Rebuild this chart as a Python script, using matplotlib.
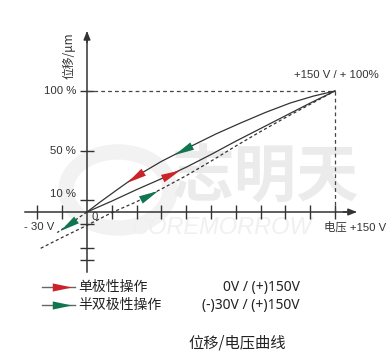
import numpy as np
import matplotlib
matplotlib.use("Agg")
import matplotlib.pyplot as plt
from matplotlib.markers import MarkerStyle
from matplotlib.path import Path
from matplotlib.transforms import Affine2D
from matplotlib.patches import Circle
from matplotlib.lines import Line2D

### data (voltage in V, displacement in %)
# falling branch (150 V -> 0 V), solid
down_v = [0, 8, 18, 29, 45, 62, 78, 93, 108, 123, 137, 150]
down_p = [0, 8.3, 18.2, 28.9, 41.8, 53.7, 64.5, 73.6, 82.3, 90.1, 95.8, 100]
# unipolar rising branch, solid
uni_v = [0, 15, 30, 45, 60, 75, 90, 105, 120, 135, 150]
uni_p = [0, 9, 18.5, 27.5, 37, 47.5, 58.5, 69, 79.5, 90, 100]
# semi-bipolar rising branch, dashed
semi_v = [-28, -15, 0, 15, 30, 45, 60, 75, 90, 105, 120, 135, 150]
semi_p = [-30, -21, -11, -0.5, 8.5, 19, 30, 42, 54.5, 66.5, 78, 89, 100]
# semi-bipolar falling branch below 0 V, dashed
semi_dn_v = [0, -9, -18]
semi_dn_p = [0, -8.5, -17]

x_ticks = [-30, -15, 15, 30, 45, 60, 75, 90, 105, 120, 135, 150]
y_ticks = [-40, -30, -10, 10, 50, 100]
y_labels = ["100 %", "50 %", "10 %"]
y_label_vals = [100, 50, 15]

legend_names = ["单极性操作", "半双极性操作"]
legend_ranges = ["0V / (+)150V", "(-)30V / (+)150V"]

RED = "#cc2229"
GREEN = "#11764f"
INK = "#333333"

W, H = 391, 363
x0, y0, sx, sy = 87, 212, 1.653, 1.21   # pixel position of origin, px per V, px per %

fig = plt.figure(figsize=(W / 100, H / 100), dpi=100)
ax = fig.add_axes([0, 0, 1, 1])
ax.set_xlim(-x0 / sx, (W - x0) / sx)
ax.set_ylim(-(H - y0) / sy, y0 / sy)

def fx(px):
    return px / W

def fy(py):
    return 1 - py / H

### watermark (behind everything)
ax.add_patch(Circle(((118 - x0) / sx, (y0 - 190) / sy), 52 / sx, fill=False,
                    ec="#f2f2f2", lw=11, zorder=0))
ax.text(fx(265), fy(178), "志明天", fontsize=45, fontweight="bold", color="#ebebeb",
        family="Noto Sans CJK SC", ha="center", va="center", zorder=0,
        transform=ax.transAxes)
ax.text(fx(222), fy(228), "COREMORROW", fontsize=17, style="italic", color="#f0f0f0",
        family="Liberation Sans", ha="center", va="center", zorder=0,
        transform=ax.transAxes)

### axes
for s in ["top", "right"]:
    ax.spines[s].set_visible(False)
ax.spines["left"].set_position(("data", 0))
ax.spines["bottom"].set_position(("data", 0))
ax.spines["left"].set_bounds(-49.6, 148)
ax.spines["bottom"].set_bounds(-37.5, 162)
for s in ["left", "bottom"]:
    ax.spines[s].set_color(INK)
    ax.spines[s].set_linewidth(1.1)
ax.set_xticks(x_ticks)
ax.set_yticks(y_ticks)
ax.tick_params(direction="inout", length=9.5, width=1.0, colors=INK,
               labelleft=False, labelbottom=False)
ax.annotate("", xy=(0, 149.6), xytext=(0, 140),
            arrowprops=dict(arrowstyle="-|>,head_length=0.5,head_width=0.2",
                            color=INK, lw=1.1, shrinkA=0, shrinkB=0))
ax.annotate("", xy=(163.3, 0), xytext=(155, 0),
            arrowprops=dict(arrowstyle="-|>,head_length=0.5,head_width=0.2",
                            color=INK, lw=1.1, shrinkA=0, shrinkB=0))

# guides to the 150 V / 100 % corner
ax.plot([0, 150], [100, 100], ls=(0, (3, 2.5)), lw=0.9, color="#444444")
ax.plot([150, 150], [0, 100], ls=(0, (3, 2.5)), lw=0.9, color="#444444")

### curves
ax.plot(down_v, down_p, color=INK, lw=0.9)
ax.plot(uni_v, uni_p, color=INK, lw=0.9)
ax.plot(semi_v, semi_p, color=INK, lw=0.9, ls=(0, (2.5, 2)))
ax.plot(semi_dn_v, semi_dn_p, color=INK, lw=0.9, ls=(0, (2.5, 2)))

tri = Path([(1, 0), (-1, 0.42), (-1, -0.42), (1, 0)],
           [Path.MOVETO, Path.LINETO, Path.LINETO, Path.CLOSEPOLY])

def tri_marker(angle):
    return MarkerStyle(tri, transform=Affine2D().rotate_deg(angle))

def arrow_on(vs, ps, v, color, backwards):
    vs = np.asarray(vs, float)
    ps = np.asarray(ps, float)
    order = np.argsort(vs)
    vs, ps = vs[order], ps[order]
    p = np.interp(v, vs, ps)
    a = ax.transData.transform((v - 2, np.interp(v - 2, vs, ps)))
    b = ax.transData.transform((v + 2, np.interp(v + 2, vs, ps)))
    ang = np.degrees(np.arctan2(b[1] - a[1], b[0] - a[0]))
    if backwards:
        ang += 180
    ax.plot(v, p, marker=tri_marker(ang), ms=14, color=color, mec="none", zorder=5)

arrow_on(down_v, down_p, 29, RED, True)
arrow_on(down_v, down_p, 58, GREEN, True)
arrow_on(uni_v, uni_p, 51, RED, False)
arrow_on(semi_v, semi_p, 37.5, GREEN, False)
arrow_on(semi_dn_v, semi_dn_p, -11.5, GREEN, True)

### axis texts
lab = dict(family="Liberation Sans", fontsize=8.2, color=INK)
for t, v in zip(y_labels, y_label_vals):
    ax.text(-6.7, v, t, ha="right", va="center", **lab)
ax.text(-28.7, -12.4, "- 30 V", ha="center", va="center", **lab)
ax.text(4.8, -4.3, "0", ha="center", va="center", **lab)
ax.text(150.6, 113, "+150 V / + 100%", ha="center", va="center", **lab)
ax.text(143.5, -12.4, "电压 +150 V", ha="left", va="center",
        family=["Liberation Sans", "Noto Sans CJK SC"], fontsize=8.2, color=INK)
ax.text(-10.9, 129.5, "位移/μm", ha="center", va="center", rotation=90,
        family=["Noto Sans CJK SC", "DejaVu Sans"], fontsize=8.5, color=INK)

### legend
for i, (name, rng, col) in enumerate(zip(legend_names, legend_ranges, [RED, GREEN])):
    yy = 287 + 18 * i
    fig.add_artist(Line2D([fx(42), fx(75)], [fy(yy), fy(yy)], color="#666666", lw=1.0,
                          transform=fig.transFigure))
    fig.add_artist(Line2D([fx(62)], [fy(yy)], marker=tri_marker(0), ms=14, color=col,
                          mec="none", transform=fig.transFigure))
    fig.text(fx(78), fy(yy), name, ha="left", va="center", fontsize=10, color="#222222",
             family=["Noto Sans CJK SC", "DejaVu Sans"])
    fig.text(fx(300), fy(yy), rng, ha="right", va="center", fontsize=10, color="#222222",
             family=["Noto Sans", "Noto Sans CJK SC"])

fig.text(fx(237), fy(343), "位移/电压曲线", ha="center", va="center", fontsize=11,
         color="#222222", family="Noto Sans CJK SC")

fig.savefig("out.png", dpi=100)
